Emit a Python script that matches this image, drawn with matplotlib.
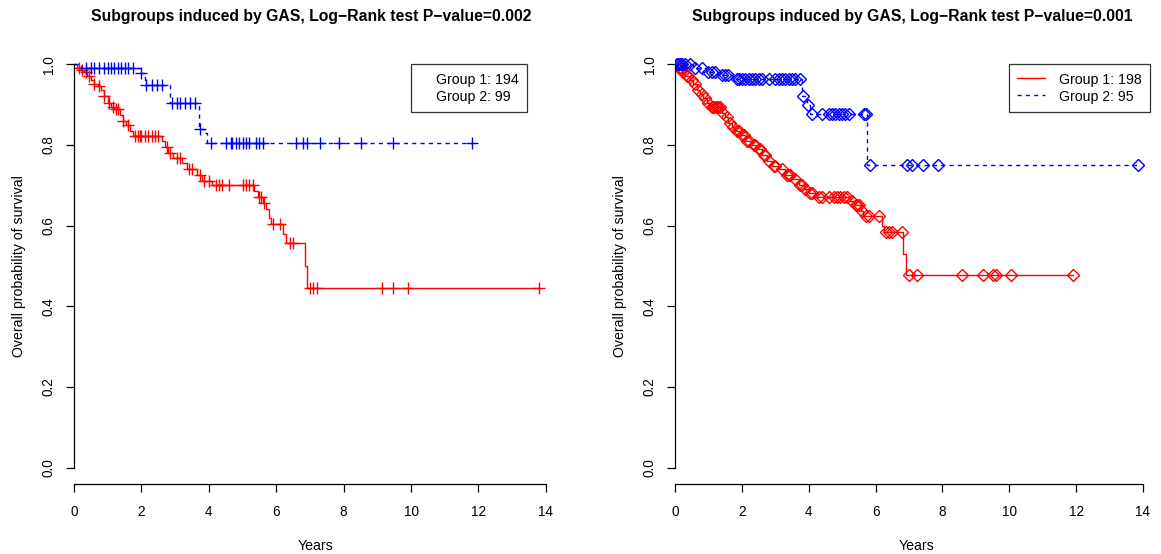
import numpy as np
import matplotlib
matplotlib.use("Agg")
import matplotlib.pyplot as plt
from matplotlib.lines import Line2D

plt.rcParams['font.family'] = ['Liberation Sans', 'DejaVu Sans']

# Left panel, group 1 (red): event times and survival after each event
left_g1_time = [0.08, 0.2, 0.3, 0.4, 0.5, 0.6, 0.7, 0.8, 0.9, 1.0, 1.1, 1.2, 1.35, 1.45,
                1.55, 1.65, 1.75, 2.6, 2.7, 2.8, 2.95, 3.2, 3.35, 3.65, 3.8, 4.1, 5.35,
                5.45, 5.6, 5.7, 5.78, 5.85, 6.2, 6.3, 6.85, 6.92]
left_g1_surv = [0.99, 0.985, 0.98, 0.97, 0.96, 0.95, 0.945, 0.935, 0.92, 0.905, 0.895, 0.888,
                0.875, 0.86, 0.85, 0.835, 0.822, 0.81, 0.795, 0.78, 0.768, 0.755, 0.74,
                0.725, 0.71, 0.70, 0.685, 0.672, 0.655, 0.64, 0.62, 0.603, 0.58, 0.558,
                0.50, 0.445]
left_g1_cens = [0.15, 0.25, 0.35, 0.45, 0.6, 0.75, 0.9, 1.05, 1.15, 1.25, 1.3, 1.45, 1.6,
                1.8, 1.9, 1.95, 2.0, 2.1, 2.2, 2.3, 2.4, 2.5, 2.75, 2.85, 3.05, 3.15, 3.4,
                3.5, 3.75, 3.85, 4.0, 4.2, 4.3, 4.4, 4.6, 5.0, 5.1, 5.2, 5.3, 5.5, 5.55,
                5.65, 5.9, 6.1, 6.4, 6.5, 7.0, 7.1, 7.2, 9.15, 9.45, 9.9, 13.8]

# Left panel, group 2 (blue)
left_g2_time = [0.2, 1.95, 2.1, 2.85, 3.7, 3.85, 3.95]
left_g2_surv = [0.99, 0.979, 0.948, 0.905, 0.84, 0.83, 0.805]
left_g2_cens = [0.35, 0.5, 0.6, 0.75, 0.9, 1.0, 1.1, 1.2, 1.3, 1.4, 1.5, 1.6, 1.75, 2.0,
                2.15, 2.3, 2.45, 2.6, 2.9, 3.05, 3.15, 3.3, 3.45, 3.6, 3.75, 4.05, 4.5,
                4.65, 4.7, 4.8, 4.9, 5.0, 5.1, 5.2, 5.4, 5.5, 5.6, 6.6, 6.8, 6.9, 7.3,
                7.85, 8.5, 9.45, 11.8]

# Right panel, group 1 (red)
right_g1_time = [0.1, 0.2, 0.3, 0.45, 0.55, 0.65, 0.75, 0.85, 0.95, 1.05, 1.4, 1.5, 1.6,
                 1.7, 1.8, 1.95, 2.1, 2.3, 2.45, 2.6, 2.75, 2.9, 3.1, 3.3, 3.5, 3.7, 3.85,
                 4.0, 4.2, 5.25, 5.35, 5.55, 5.62, 6.2, 6.25, 6.82, 6.9]
right_g1_surv = [0.99, 0.98, 0.97, 0.96, 0.95, 0.935, 0.925, 0.915, 0.905, 0.895, 0.88,
                 0.868, 0.855, 0.845, 0.835, 0.825, 0.81, 0.80, 0.79, 0.775, 0.76, 0.748,
                 0.74, 0.725, 0.715, 0.70, 0.69, 0.68, 0.672, 0.66, 0.65, 0.637, 0.625,
                 0.60, 0.585, 0.53, 0.478]
right_g1_cens = [0.05, 0.12, 0.18, 0.25, 0.35, 0.4, 0.5, 0.6, 0.7, 0.8, 0.9, 1.0, 1.1,
                 1.15, 1.2, 1.25, 1.3, 1.35, 1.45, 1.55, 1.65, 1.75, 1.85, 1.9, 2.0, 2.05,
                 2.15, 2.2, 2.35, 2.4, 2.5, 2.55, 2.65, 2.7, 2.8, 2.95, 3.0, 3.2, 3.35,
                 3.4, 3.45, 3.6, 3.75, 3.8, 3.9, 4.05, 4.1, 4.3, 4.4, 4.6, 4.75, 4.85,
                 4.95, 5.05, 5.15, 5.3, 5.4, 5.45, 5.5, 5.6, 5.7, 5.8, 6.1, 6.3, 6.4, 6.5,
                 6.8, 7.0, 7.25, 8.6, 9.2, 9.5, 9.6, 10.05, 11.9]

# Right panel, group 2 (blue)
right_g2_time = [0.55, 0.95, 1.3, 1.7, 3.8, 3.95, 4.05, 5.75]
right_g2_surv = [0.99, 0.98, 0.972, 0.963, 0.92, 0.90, 0.877, 0.75]
right_g2_cens = [0.05, 0.1, 0.15, 0.2, 0.3, 0.45, 0.6, 0.8, 1.0, 1.1, 1.2, 1.4, 1.5, 1.6,
                 1.85, 1.9, 2.0, 2.1, 2.2, 2.3, 2.4, 2.5, 2.6, 2.8, 3.0, 3.1, 3.2, 3.3,
                 3.4, 3.5, 3.6, 3.75, 3.82, 3.98, 4.1, 4.4, 4.6, 4.7, 4.8, 4.9, 5.0, 5.1,
                 5.2, 5.65, 5.72, 5.82, 6.93, 7.1, 7.43, 7.88, 13.85]

titles = ["Subgroups induced by GAS, Log\u2212Rank test P\u2212value=0.002",
          "Subgroups induced by GAS, Log\u2212Rank test P\u2212value=0.001"]
legend_left = ["Group 1: 194", "Group 2: 99"]
legend_right = ["Group 1: 198", "Group 2: 95"]
x_ticks = [0, 2, 4, 6, 8, 10, 12, 14]
y_ticks = [0.0, 0.2, 0.4, 0.6, 0.8, 1.0]
y_tick_labels = ["0.0", "0.2", "0.4", "0.6", "0.8", "1.0"]

RED = '#FF0000'
BLUE = '#0000FF'
FS = 10.2


def step_xy(times, surv, cens):
    end = max(max(times), max(cens))
    t = np.concatenate([[0.0], times, [end]])
    s = np.concatenate([[1.0], surv, [surv[-1]]])
    return t, s


def surv_at(times, surv, t):
    idx = np.searchsorted(np.asarray(times), np.asarray(t), side='right') - 1
    s = np.asarray(surv)
    return np.where(idx < 0, 1.0, s[np.clip(idx, 0, None)])


def km_panel(ax, g1, g2, marker, ms, xmax, title, labels, show_lines, leg_x):
    for (times, surv, cens), col, ls in [(g1, RED, '-'), (g2, BLUE, (0, (3, 3)))]:
        t, s = step_xy(times, surv, cens)
        ax.step(t, s, where='post', color=col, lw=1.0, ls=ls)
        ax.plot(cens, surv_at(times, surv, cens), ls='none', marker=marker,
                ms=ms, mew=1.0, mfc='none', mec=col)
    ax.set_xlim(0, xmax)
    ax.set_ylim(-0.04, 1.04)
    for side in ['top', 'right']:
        ax.spines[side].set_visible(False)
    ax.spines['left'].set_bounds(0, 1)
    ax.spines['bottom'].set_bounds(0, 14)
    ax.spines['left'].set_linewidth(0.9)
    ax.spines['bottom'].set_linewidth(0.9)
    ax.set_xticks(x_ticks)
    ax.set_xticklabels([str(v) for v in x_ticks])
    ax.set_yticks(y_ticks)
    ax.set_yticklabels(y_tick_labels, rotation=90, va='center')
    ax.tick_params(axis='both', length=6, width=0.9, labelsize=9.8)
    ax.tick_params(axis='x', pad=9)
    ax.tick_params(axis='y', pad=7)
    ax.set_xlabel("Years", fontsize=FS)
    ax.xaxis.set_label_coords(0.5, -0.126)
    ax.set_ylabel("Overall probability of survival", fontsize=FS)
    ax.yaxis.set_label_coords(-0.0994, 0.5)
    ax.text(0.49, 1.073, title, transform=ax.transAxes, ha='center', va='center',
            fontsize=11.3, fontweight='bold')
    if show_lines:
        handles = [Line2D([], [], color=RED, lw=1.0),
                   Line2D([], [], color=BLUE, lw=1.0, ls=(0, (3, 3)))]
        hlen, hpad = 2.0, 1.0
    else:
        handles = [Line2D([], [], color='none'), Line2D([], [], color='none')]
        hlen, hpad = 0.0, 1.25
    leg = ax.legend(handles, labels, loc='upper right', bbox_to_anchor=(leg_x, 0.963),
                    frameon=True, fancybox=False, fontsize=FS, borderaxespad=0,
                    handlelength=hlen, handletextpad=hpad, labelspacing=0.1,
                    handleheight=1.25, borderpad=0.55)
    leg.get_frame().set_edgecolor('black')
    leg.get_frame().set_linewidth(0.9)


fig = plt.figure(figsize=(11.61, 5.54), dpi=100)
ax_l = fig.add_axes([74 / 1161, 70 / 554, 483.7 / 1161, 436 / 554])
ax_r = fig.add_axes([675 / 1161, 70 / 554, 483.7 / 1161, 436 / 554])

km_panel(ax_l, (left_g1_time, left_g1_surv, left_g1_cens),
         (left_g2_time, left_g2_surv, left_g2_cens), '+', 9, 14.35, titles[0],
         legend_left, False, 0.9366)
km_panel(ax_r, (right_g1_time, right_g1_surv, right_g1_cens),
         (right_g2_time, right_g2_surv, right_g2_cens), 'D', 6, 14.47, titles[1],
         legend_right, True, 0.982)

fig.savefig("out.png", dpi=100)
